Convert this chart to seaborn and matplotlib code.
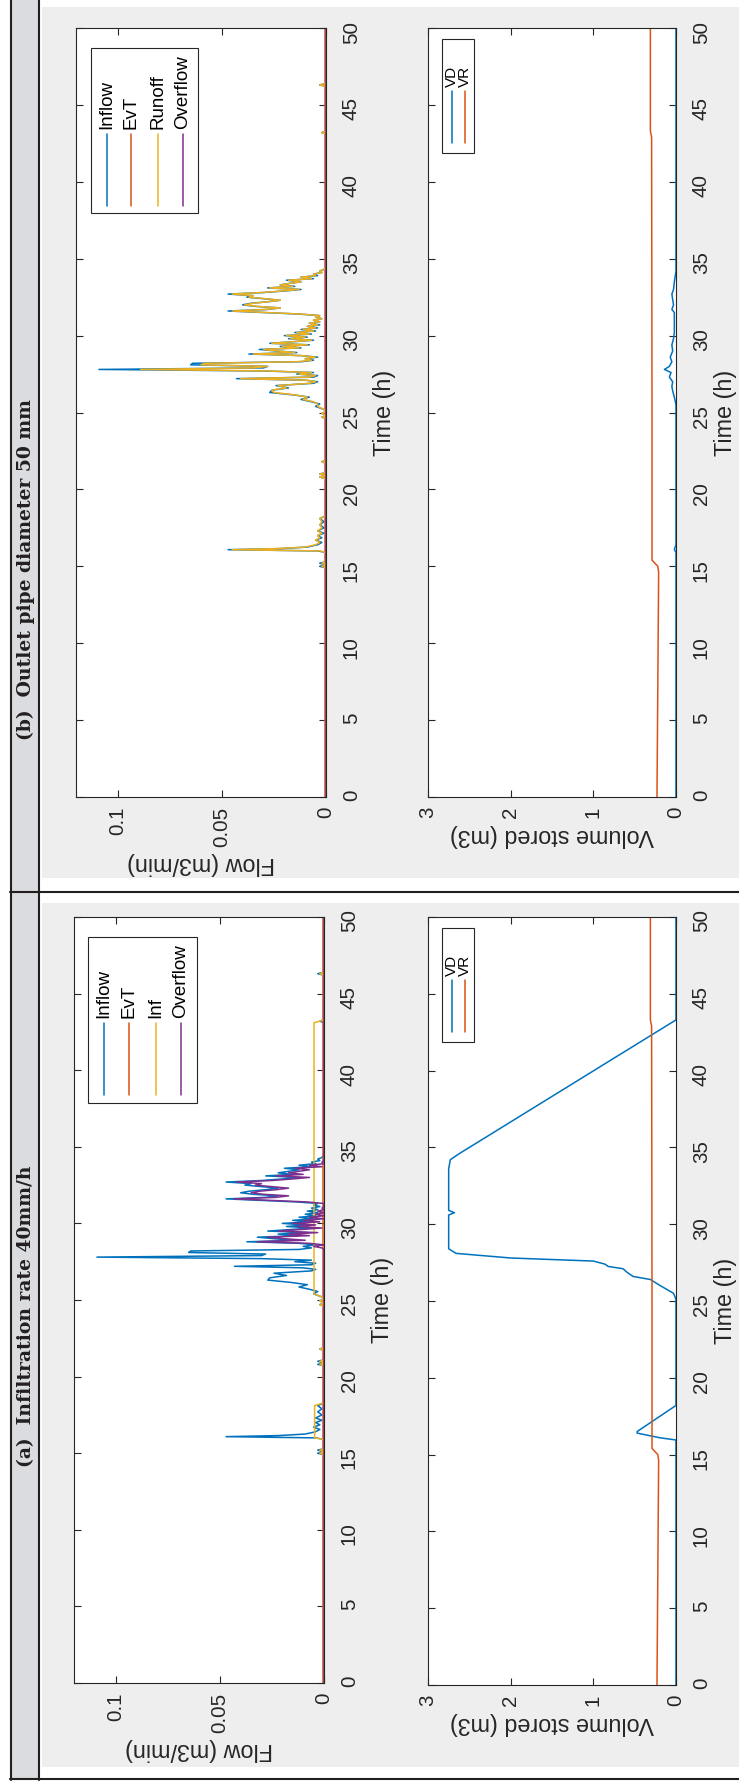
import matplotlib
matplotlib.use('Agg')
import matplotlib.pyplot as plt
import seaborn as sns
from matplotlib.patches import Rectangle
from matplotlib.lines import Line2D

# ---- data (time in h, flow in m3/min, volume in m3) ----
t_flow = [0.0, 14.9, 15.0, 15.1, 15.2, 15.3,
          15.9, 16.0, 16.08, 16.15, 16.25, 16.4, 16.55, 16.7, 16.85, 17.0,
          17.15, 17.3, 17.5, 17.7, 17.9, 18.1, 18.3,
          20.7, 20.8, 20.9, 21.0, 21.1, 21.7, 21.8, 21.9,
          24.6, 24.7, 24.8, 24.95, 25.05, 25.2, 25.4, 25.55, 25.7, 25.85,
          26.0, 26.15, 26.3, 26.45, 26.6, 26.75, 26.9, 27.0, 27.1, 27.2,
          27.3, 27.4, 27.5, 27.6, 27.7, 27.8, 27.9, 28.0, 28.1, 28.2,
          28.3, 28.4, 28.5, 28.6, 28.7, 28.8, 28.9, 29.0, 29.1, 29.2,
          29.3, 29.4, 29.5, 29.6, 29.7, 29.8, 29.9, 30.0, 30.1, 30.2,
          30.3, 30.4, 30.5, 30.6, 30.7, 30.8, 30.9, 31.0, 31.1, 31.2,
          31.3, 31.4, 31.5, 31.6, 31.7, 31.8, 31.9, 32.0, 32.1, 32.2,
          32.3, 32.4, 32.5, 32.6, 32.7, 32.8, 32.9, 33.0, 33.1, 33.2,
          33.3, 33.4, 33.5, 33.6, 33.7, 33.8, 33.9, 34.0, 34.1, 34.2,
          34.3, 34.5, 43.1, 43.2, 43.3, 46.2, 46.3, 46.4, 50.0]

inflow = [0, 0, 0.003, 0, 0.003, 0,
          0, 0.004, 0.047, 0.022, 0.009, 0.004, 0.002, 0.005, 0.002, 0.004,
          0.001, 0.004, 0.001, 0.003, 0.001, 0.003, 0,
          0, 0.003, 0, 0.003, 0, 0, 0.002, 0,
          0, 0.002, 0, 0.002, 0, 0.001, 0.005, 0.003, 0.007, 0.012,
          0.008, 0.016, 0.027, 0.026, 0.018, 0.024, 0.006, 0.004, 0.010, 0.043,
          0.006, 0.004, 0.014, 0.006, 0.030, 0.109, 0.030, 0.028, 0.065, 0.064,
          0.012, 0.006, 0.010, 0.004, 0.012, 0.037, 0.014, 0.024, 0.032, 0.012,
          0.022, 0.008, 0.027, 0.016, 0.006, 0.018, 0.009, 0.020, 0.007, 0.015,
          0.005, 0.012, 0.004, 0.009, 0.003, 0.008, 0.003, 0.006, 0.002, 0.005,
          0.003, 0.013, 0.030, 0.047, 0.028, 0.022, 0.034, 0.040, 0.036, 0.028,
          0.022, 0.030, 0.038, 0.035, 0.047, 0.030, 0.020, 0.012, 0.028, 0.015,
          0.022, 0.017, 0.012, 0.019, 0.006, 0.012, 0.004, 0.006, 0.002, 0.003,
          0.001, 0, 0, 0.002, 0, 0, 0.003, 0, 0]

runoff_b = [0, 0, 0.002, 0, 0.002, 0,
            0, 0.003, 0.045, 0.024, 0.010, 0.005, 0.003, 0.005, 0.003, 0.004,
            0.002, 0.004, 0.002, 0.003, 0.002, 0.003, 0,
            0, 0.003, 0, 0.003, 0, 0, 0.002, 0,
            0, 0.002, 0, 0.002, 0, 0.001, 0.004, 0.004, 0.006, 0.011,
            0.009, 0.015, 0.025, 0.026, 0.019, 0.023, 0.008, 0.005, 0.009, 0.041,
            0.008, 0.005, 0.013, 0.007, 0.028, 0.089, 0.035, 0.028, 0.060, 0.058,
            0.014, 0.007, 0.010, 0.005, 0.012, 0.035, 0.015, 0.023, 0.030, 0.013,
            0.021, 0.009, 0.026, 0.016, 0.007, 0.017, 0.010, 0.019, 0.008, 0.014,
            0.006, 0.011, 0.005, 0.009, 0.004, 0.008, 0.003, 0.006, 0.002, 0.005,
            0.003, 0.012, 0.028, 0.045, 0.029, 0.022, 0.033, 0.039, 0.035, 0.028,
            0.022, 0.029, 0.037, 0.035, 0.045, 0.031, 0.021, 0.013, 0.027, 0.016,
            0.022, 0.017, 0.012, 0.018, 0.007, 0.012, 0.005, 0.006, 0.002, 0.003,
            0.001, 0, 0, 0.002, 0, 0, 0.003, 0, 0]

t_inf = [0, 14.9, 15.0, 15.1, 15.2, 15.3, 15.9, 16.0, 18.1, 18.3,
         20.7, 20.8, 20.9, 21.0, 21.1, 21.7, 21.8, 21.9,
         24.6, 24.7, 24.8, 24.95, 25.05, 25.2, 25.4, 43.1, 43.2, 43.3,
         46.2, 46.3, 46.4, 50]
inf_a = [0, 0, 0.002, 0, 0.002, 0, 0, 0.0045, 0.0045, 0,
         0, 0.002, 0, 0.002, 0, 0, 0.002, 0,
         0, 0.002, 0, 0.002, 0, 0.001, 0.0048, 0.0048, 0.002, 0,
         0, 0.002, 0, 0]

t_over = [0, 28.3, 28.4, 28.5, 28.6, 28.7, 28.8, 28.9, 29.0, 29.1, 29.2, 29.3,
          29.4, 29.5, 29.6, 29.7, 29.8, 29.9, 30.0, 30.1, 30.2, 30.3,
          30.4, 30.5, 30.6, 30.7, 30.8, 30.9, 31.0, 31.1, 31.2, 31.3,
          31.4, 31.5, 31.6, 31.7, 31.8, 31.9, 32.0, 32.1, 32.2, 32.3,
          32.4, 32.5, 32.6, 32.7, 32.8, 32.9, 33.0, 33.1, 33.2, 33.3,
          33.4, 33.5, 33.6, 33.7, 33.8, 33.9, 34.0, 34.1, 50]
overflow_a = [0, 0, 0.001, 0.005, 0, 0.007, 0.032, 0.009, 0.019, 0.027, 0.007, 0.017,
              0.003, 0.022, 0.011, 0.001, 0.013, 0.004, 0.015, 0.002, 0.010, 0,
              0.007, 0, 0.004, 0, 0.003, 0, 0.001, 0, 0, 0,
              0.008, 0.025, 0.043, 0.023, 0.017, 0.029, 0.035, 0.031, 0.023, 0.017,
              0.025, 0.033, 0.030, 0.042, 0.025, 0.015, 0.007, 0.023, 0.010, 0.017,
              0.012, 0.007, 0.014, 0.001, 0.007, 0, 0.001, 0, 0]

t_evt = [0, 50]
evt = [0.0003, 0.0003]

t_vd_a = [0, 15.95, 16.1, 16.4, 16.5, 18.2, 25.1, 25.5, 26.0, 26.4, 26.6, 26.9,
          27.1, 27.25, 27.4, 27.6, 27.8, 28.1, 28.4, 30.6, 30.75, 30.9, 33.6,
          34.2, 34.6, 43.3, 50]
vd_a = [0, 0, 0.2, 0.47, 0.47, 0, 0, 0.03, 0.19, 0.31, 0.52, 0.6,
        0.64, 0.82, 0.86, 1.0, 2.0, 2.66, 2.75, 2.75, 2.68, 2.75, 2.75,
        2.73, 2.62, 0, 0]

t_vd_b = [0, 15.9, 16.1, 16.4, 25.5, 26.0, 26.4, 26.7, 27.0, 27.3, 27.6, 27.8,
          28.0, 28.3, 28.6, 29.0, 29.4, 29.8, 30.2, 31.5, 31.7, 32.0, 32.7,
          33.0, 33.5, 34.2, 50]
vd_b = [0, 0, 0.02, 0, 0, 0.02, 0.04, 0.05, 0.04, 0.08, 0.06, 0.14,
        0.08, 0.05, 0.07, 0.04, 0.05, 0.03, 0.02, 0.02, 0.05, 0.03, 0.05,
        0.03, 0.02, 0, 0]

t_vr = [0, 14.6, 15.0, 15.4, 24.5, 42.9, 43.3, 50]
vr = [0.23, 0.21, 0.22, 0.29, 0.29, 0.295, 0.31, 0.31]

flow_ticks = [0, 0.05, 0.1]
flow_ticklabels = ['0', '0.05', '0.1']
vol_ticks = [0, 1, 2, 3]
time_ticks = [0, 5, 10, 15, 20, 25, 30, 35, 40, 45, 50]

headers = ['(a)  Infiltration rate 40mm/h', '(b)  Outlet pipe diameter 50 mm']
legend_a = ['Inflow', 'EvT', 'Inf', 'Overflow']
legend_b = ['Inflow', 'EvT', 'Runoff', 'Overflow']
legend_vol = ['VD', 'VR']

C_BLUE, C_ORANGE, C_YELLOW, C_PURPLE = '#0072BD', '#D95319', '#EDB120', '#7E2F8E'
INK = '#262626'

# ---- figure (the whole page is turned 90 degrees counter-clockwise) ----
sns.set_theme(style='white')
plt.rcParams['font.family'] = ['Liberation Sans', 'DejaVu Sans']

W, H = 739, 1786
fig = plt.figure(figsize=(W / 100, H / 100), dpi=100)
fig.patch.set_facecolor('white')


def fx(px):
    return px / W


def fy(py):
    return 1 - py / H


def rect(x0, y0, x1, y1, **kw):
    fig.add_artist(Rectangle((fx(x0), fy(y1)), (x1 - x0) / W, (y1 - y0) / H,
                             transform=fig.transFigure, **kw))


def hline(x0, x1, y, **kw):
    fig.add_artist(Line2D([fx(x0), fx(x1)], [fy(y), fy(y)], transform=fig.transFigure, **kw))


def vline(x, y0, y1, **kw):
    fig.add_artist(Line2D([fx(x), fx(x)], [fy(y0), fy(y1)], transform=fig.transFigure, **kw))


# table cells and gray figure backgrounds
rect(12, 0, 38, 1779, facecolor='#dbdcdf', edgecolor='none', zorder=-3)
rect(42, 7, 739, 878, facecolor='#eeeeee', edgecolor='none', zorder=-3)
rect(42, 903, 739, 1767, facecolor='#eeeeee', edgecolor='none', zorder=-3)
vline(11, 0, 1780, color='#231f20', lw=1.5, zorder=-1)
vline(39, 0, 1780, color='#231f20', lw=1.5, zorder=-1)
hline(10, 739, 892, color='#231f20', lw=1.5, zorder=-1)
hline(10, 739, 1779, color='#231f20', lw=1.5, zorder=-1)

for txt, y0 in zip(headers, [1467, 740]):
    fig.text(fx(26), fy(y0), txt, rotation=90, rotation_mode='anchor', ha='left', va='center',
             family='DejaVu Serif', fontweight='bold', fontsize=13.5, color='#231f20')


def make_axes(left, top, right, bottom):
    ax = fig.add_axes([fx(left), fy(bottom), (right - left) / W, (bottom - top) / H])
    ax.set_facecolor('white')
    for s in ax.spines.values():
        s.set_color(INK)
        s.set_linewidth(0.8)
    ax.set_ylim(0, 50)
    ax.set_yticks(time_ticks)
    ax.set_yticklabels([str(t) for t in time_ticks], rotation=90)
    ax.tick_params(direction='in', length=5, width=0.8, color=INK, labelcolor=INK,
                   top=True, bottom=True, left=True, right=True,
                   labelleft=False, labelright=True, labelsize=14.8)
    ax.tick_params(axis='y', pad=11.5)
    ax.tick_params(axis='x', pad=7)
    ax.yaxis.set_label_position('right')
    return ax


def line(ax, x, y, color):
    sns.lineplot(x=x, y=y, ax=ax, color=color, lw=1.1, orient='y', estimator=None, legend=False)


def finish(ax, xmax, ticks, ticklabels, xlabel, tpad=9):
    ax.set_xlim(xmax, 0)
    ax.set_xticks(ticks)
    ax.set_xticklabels(ticklabels, rotation=90)
    ax.set_xlabel(xlabel, rotation=180, fontsize=16.8, color=INK, labelpad=4)
    ax.set_ylabel('Time (h)', rotation=90, fontsize=16.8, color=INK, labelpad=tpad)


def legend(box, entries_dx, line_y, text_y, labels, colors, size=13.5):
    x0, y0, x1, y1 = box
    rect(x0, y0, x1, y1, facecolor='white', edgecolor=INK, lw=0.8, zorder=5)
    for dx, lab, c in zip(entries_dx, labels, colors):
        vline(x0 + dx, y0 + line_y[0], y0 + line_y[1], color=c, lw=1.1, zorder=6)
        fig.text(fx(x0 + dx), fy(y0 + text_y), lab, rotation=90, rotation_mode='anchor',
                 ha='left', va='center', fontsize=size, color='black', zorder=6)


# panel (a): flow
ax = make_axes(74, 917, 324, 1683)
line(ax, inflow, t_flow, C_BLUE)
line(ax, evt, t_evt, C_ORANGE)
line(ax, inf_a, t_inf, C_YELLOW)
line(ax, overflow_a, t_over, C_PURPLE)
finish(ax, 0.12, flow_ticks, flow_ticklabels, 'Flow (m3/min)')
legend((88, 937, 197, 1103), [16, 41, 68, 93], (86, 158), 81, legend_a,
       [C_BLUE, C_ORANGE, C_YELLOW, C_PURPLE])

# panel (a): volume
ax = make_axes(428, 917, 676, 1685)
line(ax, vd_a, t_vd_a, C_BLUE)
line(ax, vr, t_vr, C_ORANGE)
finish(ax, 3, vol_ticks, [str(v) for v in vol_ticks], 'Volume stored (m3)', tpad=2)
legend((442, 928, 474, 1042), [10, 23], (52, 104), 48, legend_vol, [C_BLUE, C_ORANGE], size=11)

# panel (b): flow
ax = make_axes(76, 28, 326, 797)
line(ax, inflow, t_flow, C_BLUE)
line(ax, evt, t_evt, C_ORANGE)
line(ax, runoff_b, t_flow, C_YELLOW)
line(ax, [0, 0], t_evt, C_PURPLE)
finish(ax, 0.12, flow_ticks, flow_ticklabels, 'Flow (m3/min)')
legend((91, 48, 198, 213), [16, 40, 67, 92], (86, 158), 81, legend_b,
       [C_BLUE, C_ORANGE, C_YELLOW, C_PURPLE])

# panel (b): volume
ax = make_axes(428, 28, 676, 797)
line(ax, vd_b, t_vd_b, C_BLUE)
line(ax, vr, t_vr, C_ORANGE)
finish(ax, 3, vol_ticks, [str(v) for v in vol_ticks], 'Volume stored (m3)', tpad=2)
legend((442, 39, 474, 153), [10, 23], (52, 104), 48, legend_vol, [C_BLUE, C_ORANGE], size=11)

fig.savefig('out.png', dpi=100)
